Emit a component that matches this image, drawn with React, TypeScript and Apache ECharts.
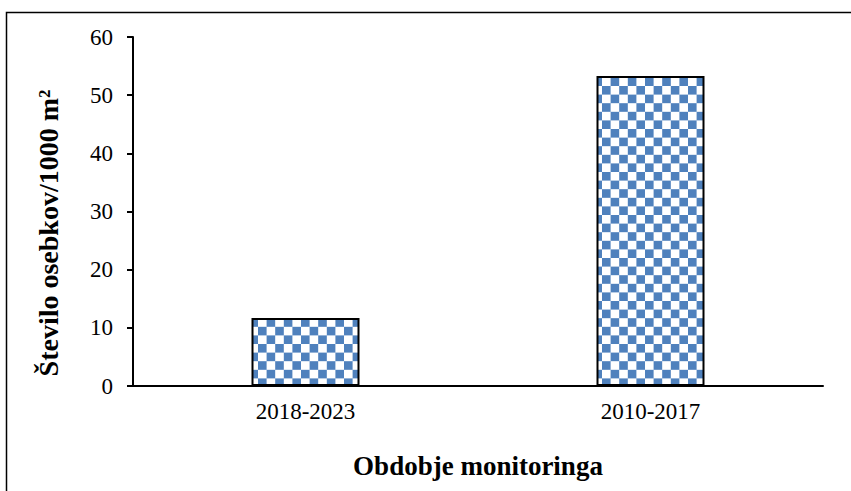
import React, { useEffect, useRef } from "react";
import * as echarts from "echarts";

const categories = ["2018-2023", "2010-2017"];
const values = [11.7, 53.3];
const yTicks = { min: 0, max: 60, interval: 10 };
const xTitle = "Obdobje monitoringa";
const yTitle = "Število osebkov/1000 m²";

const FONT = '"Times New Roman", "Liberation Serif", serif';

const tile =
  "data:image/svg+xml;utf8," +
  encodeURIComponent(
    "<svg xmlns='http://www.w3.org/2000/svg' width='17.2' height='17.2' shape-rendering='crispEdges'>" +
      "<rect width='17.2' height='17.2' fill='#ffffff'/>" +
      "<rect x='0' y='0' width='8.6' height='8.6' fill='#4f81bd'/>" +
      "<rect x='8.6' y='8.6' width='8.6' height='8.6' fill='#4f81bd'/>" +
      "</svg>"
  );

export default function App() {
  const ref = useRef<HTMLDivElement>(null);
  useEffect(() => {
    if (!ref.current) return;
    const chart = echarts.init(ref.current, null, { renderer: "svg" });
    chart.setOption({
      animation: false,
      backgroundColor: "#ffffff",
      textStyle: { fontFamily: FONT },
      graphic: [
        {
          type: "rect",
          shape: { x: 6.5, y: 12.5, width: 1000, height: 1000 },
          style: { fill: "none", stroke: "#000", lineWidth: 1.5 },
          silent: true,
          z: 100,
        },
        {
          type: "text",
          x: 48,
          y: 233,
          rotation: Math.PI / 2,
          style: {
            text: yTitle,
            fill: "#000",
            font: `bold 28px ${FONT}`,
            textAlign: "center",
            textVerticalAlign: "middle",
          },
          silent: true,
        },
      ],
      grid: { left: 133, right: 28, top: 37, bottom: 105 },
      xAxis: {
        type: "category",
        data: categories,
        axisLine: { show: true, lineStyle: { color: "#000", width: 2 } },
        axisTick: { show: false },
        axisLabel: { color: "#000", fontSize: 23, fontFamily: FONT, margin: 14 },
        name: xTitle,
        nameLocation: "middle",
        nameGap: 66,
        nameTextStyle: { color: "#000", fontSize: 27, fontWeight: "bold", fontFamily: FONT },
      },
      yAxis: {
        type: "value",
        min: yTicks.min,
        max: yTicks.max,
        interval: yTicks.interval,
        axisLine: { show: true, lineStyle: { color: "#000", width: 2 } },
        axisTick: { show: true, length: 6, lineStyle: { color: "#000", width: 2 } },
        splitLine: { show: false },
        axisLabel: { color: "#000", fontSize: 23, fontFamily: FONT, margin: 20 },
      },
      series: [
        {
          type: "bar",
          data: values,
          barWidth: 108,
          itemStyle: {
            color: { image: tile, repeat: "repeat", imageWidth: 17.2, imageHeight: 17.2 },
            borderColor: "#000",
            borderWidth: 2,
          },
        },
      ],
    });
    return () => chart.dispose();
  }, []);
  return (
    <div
      ref={ref}
      style={{ position: "fixed", left: 0, top: 0, width: 851, height: 491 }}
    />
  );
}
